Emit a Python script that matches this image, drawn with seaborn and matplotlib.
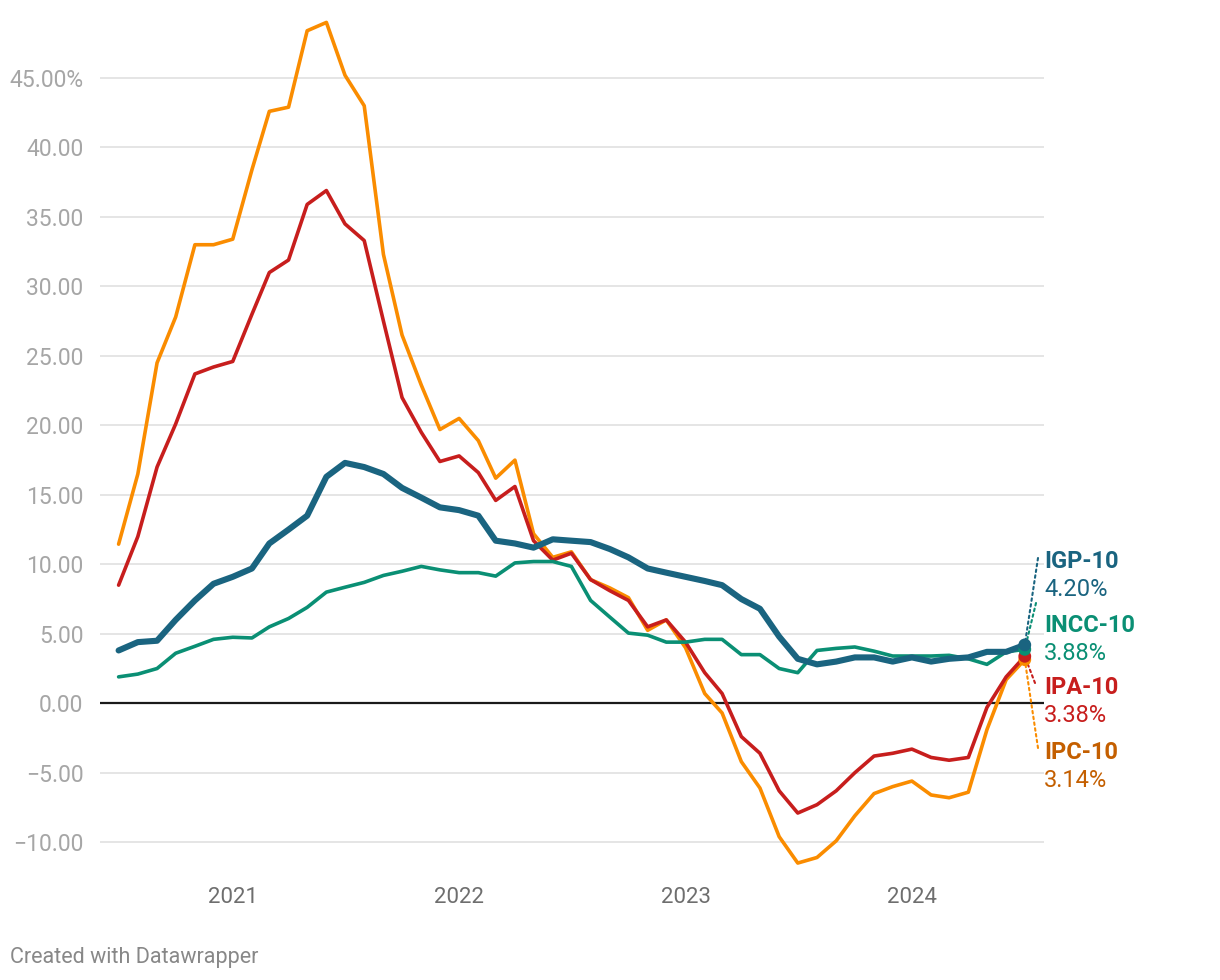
import pandas as pd
import numpy as np
import matplotlib
matplotlib.use("Agg")
import matplotlib.pyplot as plt
import matplotlib.dates as mdates
import seaborn as sns

# meses de jul/2020 a jul/2024
months = pd.date_range("2020-07-01", "2024-07-01", freq="MS")

igp = [3.8, 4.4, 4.5, 6.0, 7.4, 8.6, 9.1, 9.7, 11.5, 12.5, 13.5, 16.3, 17.3,
       17.0, 16.5, 15.5, 14.8, 14.1, 13.9, 13.5, 11.7, 11.5, 11.2, 11.8, 11.7,
       11.6, 11.1, 10.5, 9.7, 9.4, 9.1, 8.8, 8.5, 7.5, 6.8, 4.8, 3.2, 2.8,
       3.0, 3.3, 3.3, 3.0, 3.3, 3.0, 3.2, 3.3, 3.7, 3.7, 4.20]
incc = [1.9, 2.1, 2.5, 3.6, 4.1, 4.6, 4.75, 4.7, 5.5, 6.1, 6.9, 8.0, 8.35,
        8.7, 9.2, 9.5, 9.85, 9.6, 9.4, 9.4, 9.15, 10.1, 10.2, 10.2, 9.85,
        7.4, 6.2, 5.05, 4.9, 4.4, 4.4, 4.6, 4.6, 3.5, 3.5, 2.5, 2.2, 3.8,
        3.95, 4.05, 3.75, 3.4, 3.4, 3.4, 3.45, 3.2, 2.8, 3.7, 3.88]
ipa = [8.5, 12.0, 17.0, 20.1, 23.7, 24.2, 24.6, 28.0, 31.0, 31.9, 35.9, 36.9,
       34.5, 33.3, 27.5, 22.0, 19.5, 17.4, 17.8, 16.6, 14.6, 15.6, 11.7, 10.3,
       10.8, 8.9, 8.1, 7.4, 5.5, 6.0, 4.4, 2.2, 0.7, -2.4, -3.6, -6.3, -7.9,
       -7.3, -6.3, -5.0, -3.8, -3.6, -3.3, -3.9, -4.1, -3.9, -0.3, 1.9, 3.38]
ipc = [11.45, 16.5, 24.5, 27.8, 33.0, 33.0, 33.4, 38.4, 42.6, 42.9, 48.4,
       49.0, 45.2, 43.0, 32.3, 26.5, 22.9, 19.7, 20.5, 18.9, 16.2, 17.5, 12.2,
       10.5, 10.9, 8.9, 8.3, 7.6, 5.25, 6.0, 4.0, 0.7, -0.7, -4.2, -6.1, -9.6,
       -11.5, -11.1, -9.9, -8.1, -6.5, -6.0, -5.6, -6.6, -6.8, -6.4, -1.9,
       1.7, 3.14]

names = ["IPC-10", "IPA-10", "INCC-10", "IGP-10"]
series = [ipc, ipa, incc, igp]
line_colors = ["#fa8c00", "#c71e1d", "#0a8f74", "#1a6480"]
label_colors = ["#c45f00", "#c71e1d", "#0a8f74", "#1a6480"]
widths = [2.6, 2.6, 2.6, 4.4]

yticks = [-10, -5, 0, 5, 10, 15, 20, 25, 30, 35, 40, 45]
ytick_labels = ["\u221210.00", "\u22125.00", "0.00", "5.00", "10.00", "15.00",
                "20.00", "25.00", "30.00", "35.00", "40.00", "45.00%"]

sns.set_style("white")
plt.rcParams['font.family'] = ['Roboto', 'DejaVu Sans']

fig = plt.figure(figsize=(12.2, 9.8), dpi=100)
ax = fig.add_axes([100 / 1220, 110 / 980, 944 / 1220, 858 / 980])

for name, vals, c, w in zip(names, series, line_colors, widths):
    sns.lineplot(x=months, y=vals, ax=ax, color=c, linewidth=w,
                 solid_joinstyle="round", solid_capstyle="round", zorder=3)

ax.set_ylim(-12.0, 49.75)
ax.set_xlim(pd.Timestamp("2020-06-01"), pd.Timestamp("2024-08-01"))

ax.set_yticks(yticks)
ax.set_yticklabels(ytick_labels)
ax.xaxis.set_major_locator(mdates.YearLocator())
ax.xaxis.set_major_formatter(mdates.DateFormatter("%Y"))

for t in yticks:
    if t == 0:
        ax.axhline(0, color="#1a1a1a", linewidth=1.6, zorder=2)
    else:
        ax.axhline(t, color="#e3e3e3", linewidth=1.3, zorder=1)

ax.tick_params(axis="y", length=0, pad=12, labelsize=16.5, labelcolor="#a6a6a6")
ax.tick_params(axis="x", length=0, pad=12, labelsize=16, labelcolor="#6e6e6e")
ax.set_xlabel("")
ax.set_ylabel("")
for s in ax.spines.values():
    s.set_visible(False)

# marcadores finais
for name, vals, c in zip(names, series, line_colors):
    ax.scatter([months[-1]], [vals[-1]], s=85, color=c, zorder=5,
               edgecolors="none")

# rótulos à direita (pixels da figura, origem embaixo)
label_pos = {"IGP-10": (562, 1038, 558), "INCC-10": (626, 1036, 603),
             "IPA-10": (688, 1035, 683), "IPC-10": (752, 1038, 748)}
for name, vals, c, lc in zip(names, series, line_colors, label_colors):
    ty, cx, cy = label_pos[name]
    ax.annotate("", xy=(months[-1], vals[-1]), xycoords="data",
                xytext=(cx, 980 - cy), textcoords="figure pixels",
                arrowprops=dict(arrowstyle="-", linestyle=(0, (1.2, 1.6)),
                                color=c, linewidth=1.5, shrinkA=0, shrinkB=0),
                zorder=4)
    fig.text(1044 / 1220, 1 - ty / 980, name, color=lc, fontsize=17,
             fontweight="bold", va="center", ha="left")
    fig.text(1044 / 1220, 1 - (ty + 28) / 980, f"{vals[-1]:.2f}%", color=lc,
             fontsize=17, va="center", ha="left")

fig.text(10 / 1220, 1 - 957 / 980, "Created with Datawrapper", color="#888888",
         fontsize=15.5, va="center", ha="left")

fig.savefig("out.png", dpi=100)
